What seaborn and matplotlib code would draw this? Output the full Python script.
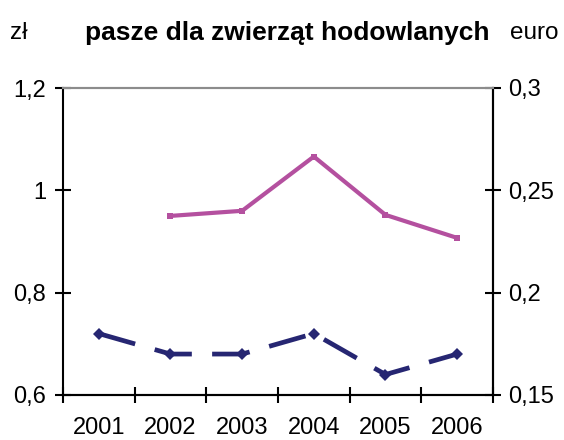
import pandas as pd
import seaborn as sns
from matplotlib import pyplot as plt
from matplotlib.ticker import FuncFormatter

sns.set_theme(style="ticks")
plt.rcParams["font.family"] = ["Liberation Sans", "DejaVu Sans"]
plt.rcParams["text.color"] = "black"
plt.rcParams["xtick.labelcolor"] = "black"
plt.rcParams["ytick.labelcolor"] = "black"

years = [2001, 2002, 2003, 2004, 2005, 2006]
price_pln = [None, 0.95, 0.96, 1.066, 0.952, 0.907]   # magenta, left axis (zł)
price_eur = [0.18, 0.17, 0.17, 0.18, 0.16, 0.17]      # dashed navy, right axis (euro)

df = pd.DataFrame({"year": years, "pln": price_pln, "eur": price_eur})
df_pln = df.dropna(subset=["pln"])

fig = plt.figure(figsize=(5.64, 4.4), dpi=100)
ax1 = fig.add_axes([0.1117, 0.1023, 0.7624, 0.6977])
ax2 = ax1.twinx()

sns.lineplot(ax=ax1, data=df_pln, x="year", y="pln", color="#B4509F",
             marker="s", markersize=5, markeredgewidth=0)
sns.lineplot(ax=ax2, data=df, x="year", y="eur", color="#262672",
             marker="D", markersize=6, markeredgewidth=0)

pln_line = ax1.lines[0]
pln_line.set_linewidth(3.0)
eur_line = ax2.lines[0]
eur_line.set_linewidth(3.4)
eur_line.set_linestyle((0, (8, 4.3)))

comma = FuncFormatter(lambda v, p: f"{v:g}".replace(".", ","))

ax1.set_xlim(2000.5, 2006.5)
ax1.set_ylim(0.6, 1.2)
ax2.set_ylim(0.15, 0.3)
ax1.set_yticks([0.6, 0.8, 1.0, 1.2])
ax2.set_yticks([0.15, 0.2, 0.25, 0.3])
ax1.yaxis.set_major_formatter(comma)
ax2.yaxis.set_major_formatter(comma)

ax1.set_xticks([y - 0.5 for y in years] + [2006.5])
ax1.set_xticklabels([])
ax1.set_xticks(years, minor=True)
ax1.set_xticklabels([str(y) for y in years], minor=True)
ax1.tick_params(axis="x", which="major", direction="inout", length=12, width=1.5, color="black")
ax1.tick_params(axis="x", which="minor", length=0, labelsize=17, pad=16)
ax1.tick_params(axis="y", direction="inout", length=12, width=1.5, labelsize=17, pad=6,
                color="black")
ax2.tick_params(axis="y", direction="inout", length=12, width=1.5, labelsize=17, pad=5,
                color="black")

for a in (ax1, ax2):
    a.set_xlabel("")
    a.set_ylabel("")
    for s in ("left", "right", "bottom"):
        a.spines[s].set_color("black")
        a.spines[s].set_linewidth(1.5)
    a.spines["top"].set_color("#8C8C8C")
    a.spines["top"].set_linewidth(1.5)
ax2.spines["left"].set_visible(False)

fig.text(0.509, 0.925, "pasze dla zwierząt hodowlanych", ha="center", va="center",
         fontsize=19, fontweight="bold")
fig.text(0.018, 0.925, "zł", ha="left", va="center", fontsize=17.5)
fig.text(0.99, 0.925, "euro", ha="right", va="center", fontsize=17.5)

plt.savefig("out.png", dpi=100)
